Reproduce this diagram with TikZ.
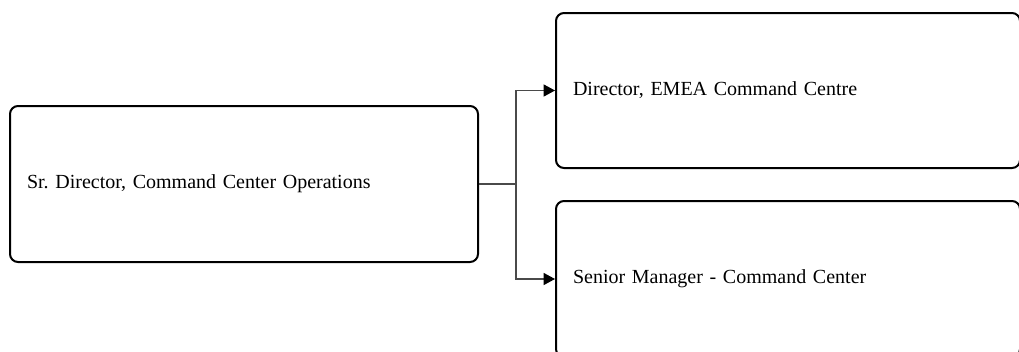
\documentclass[tikz,border=0pt]{standalone}
\usepackage{fontspec}
\setmainfont{Liberation Serif}
\usetikzlibrary{arrows.meta}
\definecolor{linkgray}{HTML}{4A4A4A}
\tikzset{
  rolebox/.style={draw=black, line width=1.5pt, rounded corners=6pt, fill=white,
    align=left, inner xsep=12.75pt, inner ysep=0pt,
    font=\fontsize{15}{18}\selectfont\frenchspacing, text=black},
  link/.style={draw=linkgray, line width=0.9pt},
  arrowlink/.style={link, -{Triangle[length=8.5pt,width=9pt,color=black]}}
}
\begin{document}
\begin{tikzpicture}[x=0.75pt,y=-0.75pt]
  \useasboundingbox (0,0) rectangle (1019,351);
  \fill[white] (0,0) rectangle (1019,351);
  \clip (0,0) rectangle (1019,351);

  % head of the unit
  \node[rolebox, text width=325.5pt, minimum height=117pt] (head) at (244,184)
    {Sr. Director, Command Center Operations};
  % direct reports
  \node[rolebox, text width=322.5pt, minimum height=116.25pt, anchor=west] (emea) at (555,90.5)
    {Director, EMEA Command Centre};
  \node[rolebox, text width=322.5pt, minimum height=117pt, anchor=west] (senior) at (555,279)
    {Senior Manager - Command Center};

  % reporting lines
  \coordinate (split) at (516,184);
  \draw[link] (head.east) -- (split);
  \draw[arrowlink] (split) |- (emea.west);
  \draw[arrowlink] (split) |- (senior.west);
\end{tikzpicture}
\end{document}
